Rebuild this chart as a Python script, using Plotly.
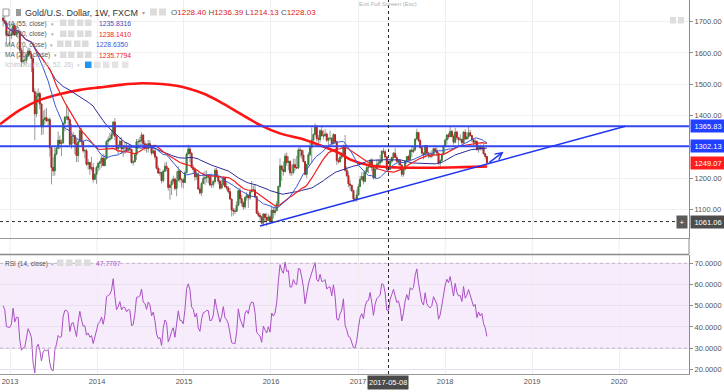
import pandas as pd
import plotly.graph_objects as go

# ---------------- DATA (weekly XAU/USD, read/estimated from the chart) ----------------
close_2012 = [1704, 1696, 1658, 1656, 1656]
high_2012 = [1723, 1724, 1698, 1670, 1693]
low_2012 = [1684, 1692, 1636, 1651, 1626]

close_2013 = [1661, 1687, 1658, 1666, 1666, 1609, 1572, 1576, 1577, 1592, 1606, 1596, 1582,
              1476, 1405, 1462, 1470, 1437, 1364, 1387, 1393, 1383, 1387, 1297, 1234, 1223,
              1277, 1295, 1321, 1310, 1313, 1375, 1395, 1396, 1387, 1308, 1333, 1336, 1309,
              1272, 1316, 1352, 1316, 1287, 1288, 1244, 1250, 1230, 1234, 1196, 1212, 1234]
high_2013 = [1682, 1694, 1697, 1685, 1683, 1675, 1617, 1619, 1589, 1597, 1617, 1616, 1604,
             1589, 1487, 1476, 1487, 1476, 1438, 1416, 1420, 1424, 1392, 1395, 1300, 1267,
             1298, 1299, 1349, 1336, 1324, 1378, 1397, 1434, 1421, 1393, 1374, 1348, 1339,
             1326, 1325, 1361, 1361, 1323, 1294, 1294, 1261, 1252, 1268, 1249, 1215, 1240]
low_2013 = [1645, 1656, 1655, 1651, 1661, 1600, 1555, 1566, 1562, 1567, 1586, 1590, 1539,
            1475, 1321, 1395, 1441, 1420, 1338, 1339, 1372, 1380, 1366, 1269, 1180, 1207,
            1208, 1272, 1294, 1293, 1270, 1310, 1349, 1385, 1363, 1305, 1294, 1311, 1277,
            1251, 1251, 1315, 1306, 1281, 1263, 1239, 1227, 1211, 1223, 1185, 1194, 1182]

close_2014 = [1247, 1252, 1264, 1240, 1262, 1318, 1323, 1326, 1339, 1379, 1334, 1293, 1303,
              1318, 1293, 1301, 1300, 1288, 1294, 1292, 1250, 1252, 1275, 1316, 1317, 1320,
              1338, 1310, 1307, 1294, 1310, 1304, 1280, 1287, 1268, 1231, 1216, 1218, 1192,
              1222, 1238, 1231, 1170, 1178, 1190, 1197, 1167, 1192, 1223, 1196, 1195, 1186]
high_2014 = [1251, 1256, 1272, 1278, 1275, 1320, 1333, 1345, 1355, 1383, 1392, 1336, 1308,
             1331, 1331, 1306, 1315, 1315, 1306, 1304, 1294, 1257, 1277, 1325, 1326, 1332,
             1346, 1339, 1320, 1311, 1322, 1321, 1304, 1296, 1294, 1271, 1240, 1231, 1220,
             1228, 1250, 1252, 1233, 1180, 1196, 1208, 1202, 1221, 1238, 1223, 1201, 1202]
low_2014 = [1222, 1226, 1234, 1238, 1238, 1260, 1305, 1317, 1326, 1335, 1321, 1287, 1277,
            1294, 1277, 1268, 1277, 1283, 1285, 1283, 1246, 1240, 1251, 1258, 1306, 1308,
            1311, 1293, 1287, 1281, 1282, 1294, 1273, 1275, 1260, 1228, 1214, 1207, 1183,
            1187, 1221, 1221, 1160, 1131, 1146, 1180, 1160, 1142, 1190, 1186, 1170, 1167]

close_2015 = [1217, 1277, 1293, 1279, 1234, 1227, 1204, 1213, 1165, 1153, 1183, 1199, 1201,
              1205, 1204, 1178, 1179, 1189, 1225, 1205, 1190, 1168, 1180, 1201, 1173, 1168,
              1157, 1133, 1098, 1095, 1094, 1113, 1160, 1134, 1121, 1108, 1138, 1145, 1137,
              1156, 1163, 1162, 1141, 1088, 1081, 1076, 1056, 1085, 1074, 1065, 1076, 1061]
high_2015 = [1224, 1282, 1307, 1302, 1283, 1243, 1234, 1223, 1218, 1173, 1188, 1219, 1224,
             1224, 1209, 1205, 1215, 1194, 1232, 1232, 1207, 1196, 1194, 1205, 1203, 1187,
             1175, 1168, 1134, 1105, 1104, 1126, 1162, 1170, 1147, 1126, 1142, 1156, 1143,
             1160, 1191, 1177, 1180, 1143, 1096, 1090, 1080, 1088, 1088, 1089, 1085, 1081]
low_2015 = [1186, 1216, 1275, 1250, 1231, 1216, 1191, 1195, 1162, 1147, 1142, 1182, 1178,
            1186, 1183, 1175, 1169, 1170, 1183, 1201, 1180, 1162, 1166, 1174, 1169, 1161,
            1150, 1131, 1077, 1080, 1084, 1092, 1111, 1118, 1110, 1098, 1102, 1128, 1105,
            1130, 1155, 1160, 1136, 1085, 1075, 1065, 1052, 1046, 1062, 1046, 1064, 1058]

close_2016 = [1097, 1090, 1096, 1117, 1174, 1239, 1227, 1221, 1270, 1250, 1254, 1217, 1218,
              1243, 1234, 1232, 1290, 1289, 1273, 1253, 1212, 1243, 1275, 1298, 1322, 1340,
              1366, 1327, 1323, 1351, 1335, 1335, 1341, 1321, 1327, 1327, 1310, 1339, 1316,
              1256, 1252, 1267, 1276, 1304, 1225, 1208, 1181, 1177, 1160, 1133, 1131, 1146]
high_2016 = [1112, 1105, 1112, 1127, 1175, 1263, 1240, 1253, 1280, 1282, 1270, 1255, 1243,
             1262, 1262, 1271, 1297, 1304, 1290, 1289, 1253, 1246, 1283, 1315, 1362, 1342,
             1375, 1367, 1338, 1357, 1367, 1352, 1357, 1346, 1331, 1352, 1331, 1344, 1340,
             1320, 1264, 1275, 1284, 1307, 1338, 1238, 1221, 1195, 1178, 1163, 1139, 1163]
low_2016 = [1061, 1071, 1081, 1094, 1110, 1169, 1191, 1208, 1218, 1239, 1225, 1208, 1206,
            1212, 1224, 1231, 1230, 1266, 1261, 1250, 1209, 1200, 1242, 1269, 1251, 1306,
            1336, 1317, 1310, 1313, 1333, 1323, 1333, 1315, 1302, 1320, 1306, 1308, 1309,
            1242, 1247, 1251, 1261, 1273, 1221, 1203, 1171, 1160, 1155, 1123, 1125, 1124]

close_2017 = [1173, 1196, 1205, 1190, 1220, 1234, 1236, 1257, 1234, 1201, 1229, 1244, 1249,
              1254, 1286, 1284, 1268, 1228, 1228.03, 1254, 1266, 1280, 1266, 1253, 1256, 1242,
              1212, 1228, 1254, 1269, 1258, 1289, 1285, 1291, 1325, 1346, 1320, 1297, 1280,
              1274, 1304, 1280, 1273, 1270, 1275, 1294, 1287, 1280, 1248, 1256, 1275, 1303]
high_2017 = [1182, 1207, 1219, 1220, 1226, 1245, 1244, 1259, 1264, 1234, 1233, 1260, 1261,
             1274, 1289, 1296, 1291, 1268, 1236.39, 1263, 1269, 1283, 1296, 1275, 1260, 1259,
             1243, 1230, 1257, 1270, 1274, 1291, 1301, 1300, 1326, 1358, 1338, 1326, 1300,
             1282, 1306, 1306, 1284, 1285, 1289, 1297, 1298, 1299, 1281, 1261, 1278, 1306]
low_2017 = [1145, 1172, 1194, 1180, 1187, 1215, 1216, 1232, 1222, 1195, 1196, 1227, 1238,
            1238, 1248, 1277, 1262, 1226, 1214.13, 1226, 1247, 1258, 1264, 1250, 1240, 1236,
            1204, 1205, 1225, 1246, 1253, 1256, 1267, 1280, 1286, 1323, 1315, 1294, 1275,
            1260, 1270, 1276, 1263, 1264, 1264, 1271, 1280, 1271, 1243, 1236, 1253, 1275]

close_2018 = [1322, 1338, 1332, 1349, 1333, 1315, 1347, 1330, 1323, 1324, 1313, 1347, 1325,
              1332, 1345, 1336, 1323, 1314, 1318, 1292, 1302, 1294, 1298, 1278, 1269, 1249.07]
high_2018 = [1326, 1340, 1345, 1366, 1355, 1340, 1361, 1352, 1331, 1340, 1326, 1350, 1356,
             1347, 1365, 1354, 1338, 1321, 1326, 1318, 1307, 1308, 1303, 1310, 1280, 1271]
low_2018 = [1302, 1307, 1324, 1331, 1331, 1307, 1311, 1322, 1303, 1317, 1307, 1309, 1322,
            1323, 1325, 1333, 1316, 1302, 1305, 1286, 1281, 1288, 1288, 1275, 1261, 1245]

first_open = 1712.0
first_week = "2012-12-03"

# 200-week MA (thick red)
ma200_dates = ["2012-11-20", "2013-02-12", "2013-05-07", "2013-07-30", "2013-10-22", "2014-01-13",
               "2014-04-07", "2014-07-12", "2014-12-01", "2015-03-20", "2015-06-01", "2015-08-23",
               "2015-11-15", "2016-02-07", "2016-05-01", "2016-07-24", "2016-10-16", "2016-11-27",
               "2017-02-20", "2017-06-13", "2017-10-30", "2018-03-17", "2018-06-26"]
ma200_vals = [1372, 1418, 1450, 1469, 1482, 1490, 1498, 1503, 1495, 1471, 1444, 1407,
              1370, 1343, 1327, 1305, 1279, 1260, 1240, 1234, 1233, 1235, 1237]

# drawn levels / trendline
resist_levels = [1365.83, 1302.13]
trend_dates = ["2015-11-16", "2020-01-27"]
trend_vals = [1047, 1366]
last_price = 1249.07
cross_price = 1061.06
cross_date = "2017-05-08"

year_ticks = ["2013-01-01", "2014-01-01", "2015-01-01", "2016-01-01", "2017-01-01",
              "2018-01-01", "2019-01-01", "2020-01-01"]
year_labels = ["2013", "2014", "2015", "2016", "2017", "2018", "2019", "2020"]
price_ticks = [1100, 1200, 1300, 1400, 1500, 1600, 1700]
rsi_ticks = [20, 30, 40, 50, 60, 70]

# ---------------- assemble ----------------
closes = close_2012 + close_2013 + close_2014 + close_2015 + close_2016 + close_2017 + close_2018
highs = high_2012 + high_2013 + high_2014 + high_2015 + high_2016 + high_2017 + high_2018
lows = low_2012 + low_2013 + low_2014 + low_2015 + low_2016 + low_2017 + low_2018
opens = [first_open] + closes[:-1]
opens[len(close_2012) + 52 * 4 + 18] = 1228.40
dates = pd.date_range(first_week, periods=len(closes), freq="7D")
highs = [max(h, o, c) for h, o, c in zip(highs, opens, closes)]
lows = [min(l, o, c) for l, o, c in zip(lows, opens, closes)]

cs = pd.Series(closes, index=dates)
ma20 = cs.rolling(20, min_periods=1).mean()
ma30 = cs.rolling(30, min_periods=1).mean()
ma55 = cs.rolling(55, min_periods=1).mean()

# RSI(14), Wilder smoothing
n = 14
deltas = cs.diff().fillna(0).tolist()
seed = sum(abs(d) for d in deltas[1:n + 1]) / n / 2
ag, al = seed, seed
rsi_vals = []
for d in deltas:
    g, l = max(d, 0), max(-d, 0)
    ag = (ag * (n - 1) + g) / n
    al = (al * (n - 1) + l) / n
    rsi_vals.append(100 - 100 / (1 + ag / al) if al > 0 else 100)

# ---------------- figure ----------------
W, H = 724, 392
ML, MR, MT, MB = 0, 35, 0, 18
PW, PH = W - ML - MR, H - MT - MB
FONT = "Liberation Sans, Arial, sans-serif"


def fx(px):
    return px / PW


def fy(py):
    return 1 - py / PH


def p2y(py):  # main pane pixel -> price
    return 1700 - (py - 21.7) / 0.3128


def r2y(py):  # rsi pane pixel -> rsi
    return 70 - (py - 263.3) / 2.12


fig = go.Figure()

# candles: wicks (grey) + bodies (coloured)
fig.add_trace(go.Candlestick(
    x=dates, open=opens, high=highs, low=lows, close=closes,
    increasing=dict(line=dict(color="#9a9a9a", width=1), fillcolor="#9a9a9a"),
    decreasing=dict(line=dict(color="#9a9a9a", width=1), fillcolor="#9a9a9a"),
    whiskerwidth=0, hoverinfo="skip", xaxis="x", yaxis="y", showlegend=False))
body_hi = [max(o, c) for o, c in zip(opens, closes)]
body_lo = [min(o, c) for o, c in zip(opens, closes)]
fig.add_trace(go.Candlestick(
    x=dates, open=opens, high=body_hi, low=body_lo, close=closes,
    increasing=dict(line=dict(color="#3a7f3a", width=1), fillcolor="#3a7f3a"),
    decreasing=dict(line=dict(color="#b82424", width=1), fillcolor="#b82424"),
    whiskerwidth=0, hoverinfo="skip", xaxis="x", yaxis="y", showlegend=False))

fig.add_trace(go.Scatter(x=ma200_dates, y=ma200_vals, mode="lines",
                         line=dict(color="#ff1414", width=2.6, shape="spline", smoothing=0.8),
                         xaxis="x", yaxis="y", showlegend=False, hoverinfo="skip"))
fig.add_trace(go.Scatter(x=dates, y=ma55, mode="lines", line=dict(color="#2b2b9a", width=1),
                         xaxis="x", yaxis="y", showlegend=False, hoverinfo="skip"))
fig.add_trace(go.Scatter(x=dates, y=ma30, mode="lines", line=dict(color="#ee2020", width=1.2),
                         xaxis="x", yaxis="y", showlegend=False, hoverinfo="skip"))
fig.add_trace(go.Scatter(x=dates, y=ma20, mode="lines", line=dict(color="#3657d6", width=1),
                         xaxis="x", yaxis="y", showlegend=False, hoverinfo="skip"))

fig.add_trace(go.Scatter(x=dates, y=rsi_vals, mode="lines", line=dict(color="#ab4fc4", width=1),
                         xaxis="x2", yaxis="y2", showlegend=False, hoverinfo="skip"))

shapes = []
# RSI band
shapes.append(dict(type="rect", xref="paper", yref="y2", x0=0, x1=1, y0=30, y1=70,
                   fillcolor="rgba(150,40,220,0.09)", line=dict(width=0), layer="below"))
for lv in (30, 70):
    shapes.append(dict(type="line", xref="paper", yref="y2", x0=0, x1=1, y0=lv, y1=lv,
                       line=dict(color="#c4b2cc", width=1, dash="3px,3px")))
# resistance lines
for lv in resist_levels:
    shapes.append(dict(type="line", xref="paper", yref="y", x0=0, x1=1, y0=lv, y1=lv,
                       line=dict(color="#3446f0", width=2)))
# trend line
shapes.append(dict(type="line", xref="x", yref="y", x0=trend_dates[0], x1=trend_dates[1],
                   y0=trend_vals[0], y1=trend_vals[1], line=dict(color="#1f33f5", width=1.5)))
# crosshair
shapes.append(dict(type="line", xref="paper", yref="y", x0=0, x1=1, y0=cross_price, y1=cross_price,
                   line=dict(color="#333333", width=1, dash="3px,3px")))
shapes.append(dict(type="line", xref="x", yref="paper", x0=cross_date, x1=cross_date, y0=0, y1=1,
                   line=dict(color="#222222", width=1, dash="3px,3px")))
# pane separators and gap grid
shapes.append(dict(type="line", xref="paper", yref="paper", x0=0, x1=1, y0=fy(254.5), y1=fy(254.5),
                   line=dict(color="#8a8a8a", width=1.5)))
for t in year_ticks:
    shapes.append(dict(type="line", xref="x", yref="paper", x0=t, x1=t, y0=fy(253.5), y1=fy(238.5),
                       line=dict(color="#eeeeee", width=1), layer="below"))
shapes.append(dict(type="line", xref="paper", yref="paper", x0=1, x1=1, y0=fy(254), y1=fy(238),
                   line=dict(color="#8a8a8a", width=1)))


def rect(x0, y0, x1, y1, fill, line=None):
    return dict(type="rect", xref="paper", yref="paper", x0=fx(x0), x1=fx(x1), y0=fy(y1), y1=fy(y0),
                fillcolor=fill, line=dict(color=line or fill, width=1 if line else 0))


# legend decorations
shapes.append(rect(3, 9, 9, 16, "white", "#9a9a9a"))
shapes.append(rect(16, 9, 21, 16, "#9a9a9a"))
shapes += [rect(150, 8.5, 157, 15.5, "#dcdcdc"), rect(159, 8.5, 166, 15.5, "#dcdcdc")]
for py, xs in ((23, (60, 68, 77, 85)), (34, (60, 68, 77, 85)), (44, (57, 65, 74, 82)),
               (55, (60, 68, 77, 85)), (263, (57, 66, 75, 84))):
    for x0 in xs:
        shapes.append(rect(x0, py - 3.5, x0 + 6.5, py + 3, "#dcdcdc"))
for i, x0 in enumerate((85, 94, 103, 112, 122)):
    shapes.append(rect(x0, 61.5, x0 + 6.5, 68, "#2196f3" if i == 0 else "#e4e4e4"))
shapes += [rect(670, 17, 676, 23.5, "#dedede"), rect(678, 17, 684, 23.5, "#dedede")]

ann = []


def text(px, py, s, size=6.5, color="#555555", anchor="left"):
    ann.append(dict(x=fx(px), y=fy(py), xref="paper", yref="paper", xanchor=anchor, yanchor="middle",
                    text=s, showarrow=False, borderpad=0,
                    font=dict(size=size, color=color, family=FONT)))


RED = "#e02020"
text(24, 12.5, "Gold/U.S. Dollar, 1W, FXCM", 9, "#333333")
text(141, 12.5, "▾", 6, "#a0a0a0")
text(170, 12.5, "O<span style='color:%s'>1228.40</span> H<span style='color:%s'>1236.39</span> "
     "L<span style='color:%s'>1214.13</span> C<span style='color:%s'>1228.03</span>" % (RED, RED, RED, RED),
     8, "#555555")
text(4, 23.5, "MA (55, close)")
text(50, 23.5, "▾", 5, "#a0a0a0")
text(98, 23.5, "1235.8316", 6.8, "#4848b8")
text(4, 34, "MA (30, close)")
text(50, 34, "▾", 5, "#a0a0a0")
text(98, 34, "1238.1410", 6.8, "#ee2020")
text(4, 44.5, "MA (20, close)")
text(49, 44.5, "▾", 5, "#a0a0a0")
text(95, 44.5, "1228.6350", 6.8, "#3657d6")
text(4, 55, "MA (200, close)")
text(53, 55, "▾", 5, "#a0a0a0")
text(98, 55, "1235.7794", 6.8, "#ee2020")
text(4, 65, "Ichimoku (9, 26, 52, 26)", 6.5, "#c8c8c8")
text(76, 65, "▾", 5, "#c8c8c8")
text(4, 263.5, "RSI (14, close)")
text(50, 263.5, "▾", 5, "#a0a0a0")
text(95, 263.5, "47.7707", 6.8, "#ab4fc4")
text(388, 3.5, "Exit Full Screen (Esc)", 6, "#b0b0b0", "center")


def axlabel(val, s, bg, yref="y"):
    ann.append(dict(x=1, y=val, xref="paper", yref=yref, xanchor="left", yanchor="middle", xshift=1,
                    text=s, showarrow=False, bgcolor=bg, width=32, height=10, borderpad=1,
                    font=dict(size=7.5, color="white", family=FONT)))


axlabel(resist_levels[0], "1365.83", "#2240ff")
axlabel(resist_levels[1], "1302.13", "#2240ff")
axlabel(last_price, "1249.07", "#ff1c1c")
axlabel(cross_price, "1061.06", "#4d4d4d")
ann.append(dict(x=1, y=cross_price, xref="paper", yref="y", xanchor="right", yanchor="middle", xshift=-1,
                text="+", showarrow=False, bgcolor="#5a5a5a", width=8, height=10, borderpad=1,
                font=dict(size=8, color="white", family=FONT)))
ann.append(dict(x=cross_date, y=fy(382), xref="x", yref="paper", xanchor="center", yanchor="middle",
                text="2017-05-08", showarrow=False, bgcolor="#4a4a4a", height=11, borderpad=1,
                font=dict(size=7.5, color="white", family=FONT)))
# arrow drawn on the chart
ann.append(dict(x="2018-09-03", y=p2y(151.7), xref="x", yref="y", ax=-16, ay=12, axref="pixel", ayref="pixel",
                text="", showarrow=True, arrowhead=5, arrowsize=1, arrowwidth=1.4, arrowcolor="#1f33f5"))

tickfont = dict(size=7.5, color="#555555", family=FONT)
fig.update_layout(
    width=W, height=H, margin=dict(l=ML, r=MR, t=MT, b=MB),
    paper_bgcolor="white", plot_bgcolor="white", showlegend=False,
    shapes=shapes, annotations=ann,
    xaxis=dict(domain=[0, 1], anchor="y", type="date", range=["2012-11-20", "2020-10-20"],
               tickvals=year_ticks, ticktext=year_labels, showticklabels=False, showgrid=True,
               gridcolor="#eeeeee", showline=True, linecolor="#9a9a9a", linewidth=1,
               rangeslider=dict(visible=False), zeroline=False),
    xaxis2=dict(domain=[0, 1], anchor="y2", type="date", matches="x", tickvals=year_ticks,
                ticktext=year_labels, showgrid=True, gridcolor="#eeeeee", showline=True,
                linecolor="#9a9a9a", linewidth=1, tickfont=tickfont, ticks="", ticklen=0,
                rangeslider=dict(visible=False), zeroline=False),
    yaxis=dict(domain=[fy(238), 1], anchor="x", side="right", range=[p2y(238), p2y(0)],
               tickvals=price_ticks, ticktext=["%.2f" % v for v in price_ticks], tickfont=tickfont,
               showgrid=True, gridcolor="#f0f0f0", showline=True, linecolor="#8a8a8a", linewidth=1,
               ticks="outside", ticklen=3, tickcolor="#8a8a8a", zeroline=False),
    yaxis2=dict(domain=[0, fy(255)], anchor="x2", side="right", range=[r2y(374), r2y(255)],
                tickvals=rsi_ticks, ticktext=["%.4f" % v for v in rsi_ticks], tickfont=tickfont,
                showgrid=True, gridcolor="#e9e2ee", showline=True, linecolor="#8a8a8a", linewidth=1,
                ticks="outside", ticklen=3, tickcolor="#8a8a8a", zeroline=False),
)

fig.write_html("out.html", config={"displayModeBar": False},
               post_script="document.body.style.margin='0';document.body.style.overflow='hidden';")
